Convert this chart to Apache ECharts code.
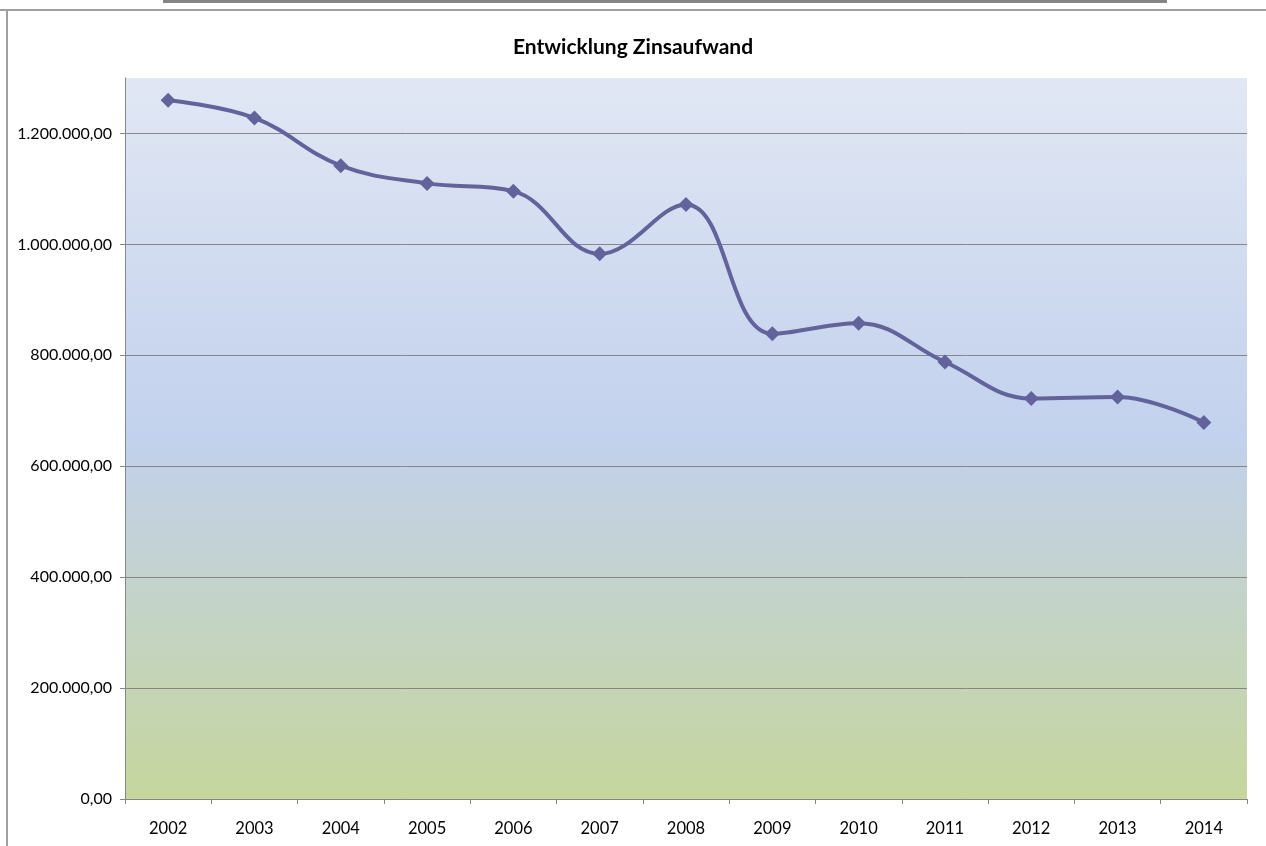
<!DOCTYPE html>
<html>
<head>
<meta charset="utf-8">
<title>Entwicklung Zinsaufwand</title>
<script src="https://cdn.jsdelivr.net/npm/echarts@6/dist/echarts.min.js"></script>
<style>
  html, body { margin: 0; padding: 0; background: #fff; }
  #chart { width: 1266px; height: 846px; }
</style>
</head>
<body>
<div id="chart"></div>
<script>
// Jahre (x-Achse)
const years = ['2002', '2003', '2004', '2005', '2006', '2007', '2008',
  '2009', '2010', '2011', '2012', '2013', '2014'];
// Zinsaufwand pro Jahr
const zinsaufwand = [1260000, 1228000, 1142000, 1110000, 1096000, 983000, 1072000,
  839000, 858000, 788000, 722000, 725000, 679000];
// y-Achse
const yMin = 0;
const yMax = 1300000;
const yStep = 200000;

// deutsches Zahlenformat 1.200.000,00
const fmtDE = (v) => {
  const parts = Number(v).toFixed(2).split('.');
  return parts[0].replace(/\B(?=(\d{3})+(?!\d))/g, '.') + ',' + parts[1];
};

const chart = echarts.init(document.getElementById('chart'));

const font = 'Lato, "Open Sans", sans-serif';

const option = {
  backgroundColor: '#ffffff',
  animation: false,
  title: {
    text: 'Entwicklung Zinsaufwand',
    left: 'center',
    top: 32,
    textStyle: { fontFamily: font, fontSize: 21, fontWeight: 'bold', color: '#000' }
  },
  // Rahmen des Excel-Fensters
  graphic: [
    { type: 'rect', shape: { x: 163, y: 0, width: 1004, height: 3 }, style: { fill: '#858585' } },
    { type: 'line', shape: { x1: 0, y1: 10, x2: 1266, y2: 10 }, style: { stroke: '#a0a0a0', lineWidth: 2 } },
    { type: 'line', shape: { x1: 7, y1: 10, x2: 7, y2: 846 }, style: { stroke: '#a0a0a0', lineWidth: 2 } }
  ],
  grid: {
    left: 125,
    right: 19,
    top: 78,
    bottom: 47,
    show: true,
    borderWidth: 0,
    backgroundColor: new echarts.graphic.LinearGradient(0, 0, 0, 1, [
      { offset: 0, color: '#e1e7f4' },
      { offset: 0.5, color: '#c2d1ed' },
      { offset: 1, color: '#c6d69c' }
    ])
  },
  xAxis: {
    type: 'category',
    data: years,
    boundaryGap: true,
    axisLine: { lineStyle: { color: '#868686', width: 1 } },
    axisTick: { show: true, length: 5, lineStyle: { color: '#868686' } },
    axisLabel: { color: '#000', fontFamily: font, fontSize: 16.5, margin: 21 },
    splitLine: { show: false }
  },
  yAxis: {
    type: 'value',
    min: yMin,
    max: yMax,
    interval: yStep,
    axisLine: { show: true, lineStyle: { color: '#868686', width: 1 } },
    axisTick: { show: true, length: 5, lineStyle: { color: '#868686' } },
    axisLabel: {
      color: '#000',
      fontFamily: font,
      fontSize: 16,
      margin: 13,
      showMaxLabel: false,
      formatter: fmtDE
    },
    splitLine: { show: true, showMaxLine: false, lineStyle: { color: '#868686', width: 1 } }
  },
  series: [{
    name: 'Zinsaufwand',
    type: 'line',
    data: zinsaufwand,
    smooth: 0.4,
    symbol: 'diamond',
    symbolSize: 15,
    lineStyle: { color: '#63639c', width: 4 },
    itemStyle: { color: '#63639c' }
  }]
};

chart.setOption(option);
</script>
</body>
</html>
